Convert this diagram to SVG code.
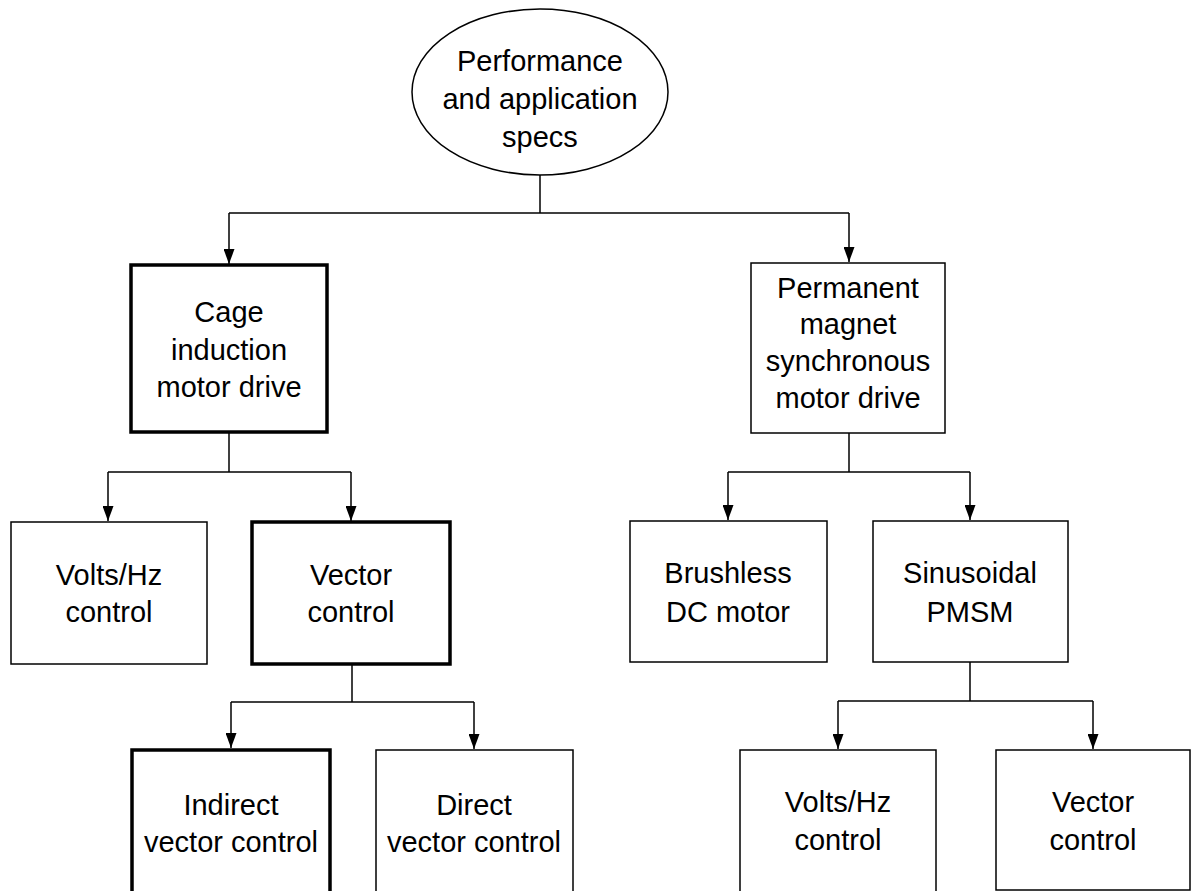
<svg xmlns="http://www.w3.org/2000/svg" width="1191" height="891" viewBox="0 0 1191 891">
<defs>
<marker id="arr" markerUnits="userSpaceOnUse" markerWidth="11" markerHeight="15" refX="5.5" refY="15" orient="0" viewBox="0 0 11 15">
<path d="M0,0 L11,0 L5.5,15 Z" fill="#000"/>
</marker>
<style>
.box{fill:#fff;stroke:#000;stroke-width:1.5}
.thick{fill:#fff;stroke:#000;stroke-width:3.5}
.lbl{font-family:"Liberation Sans",Arial,sans-serif;font-size:29px;fill:#000;text-anchor:middle}
.c{fill:none;stroke:#000;stroke-width:1.5}
</style>
</defs>
<rect width="1191" height="891" fill="#fff"/>
<g id="connectors">
<path class="c" d="M540,175 V213"/>
<path class="c" d="M229,213 H849"/>
<path class="c" d="M229,213 V264" marker-end="url(#arr)"/>
<path class="c" d="M849,213 V262" marker-end="url(#arr)"/>
<path class="c" d="M229,432 V472"/>
<path class="c" d="M108,472 H351"/>
<path class="c" d="M108,472 V521" marker-end="url(#arr)"/>
<path class="c" d="M351,472 V521" marker-end="url(#arr)"/>
<path class="c" d="M352,664 V702"/>
<path class="c" d="M231,702 H474"/>
<path class="c" d="M231,702 V748" marker-end="url(#arr)"/>
<path class="c" d="M474,702 V749" marker-end="url(#arr)"/>
<path class="c" d="M849,433 V472"/>
<path class="c" d="M728,472 H970"/>
<path class="c" d="M728,472 V520" marker-end="url(#arr)"/>
<path class="c" d="M970,472 V520" marker-end="url(#arr)"/>
<path class="c" d="M970,662 V701"/>
<path class="c" d="M838,701 H1093"/>
<path class="c" d="M838,701 V749" marker-end="url(#arr)"/>
<path class="c" d="M1093,701 V749" marker-end="url(#arr)"/>
</g>
<g id="specs">
<ellipse class="box" cx="540" cy="92" rx="128" ry="83"/>
<text class="lbl" x="540" y="71">Performance</text>
<text class="lbl" x="540" y="109">and application</text>
<text class="lbl" x="540" y="147">specs</text>
</g>
<g id="cage">
<rect class="thick" x="131" y="265" width="196" height="167"/>
<text class="lbl" x="229" y="322">Cage</text>
<text class="lbl" x="229" y="360">induction</text>
<text class="lbl" x="229" y="397">motor drive</text>
</g>
<g id="pmsm-drive">
<rect class="box" x="751" y="263" width="194" height="170"/>
<text class="lbl" x="848" y="298">Permanent</text>
<text class="lbl" x="848" y="334">magnet</text>
<text class="lbl" x="848" y="371">synchronous</text>
<text class="lbl" x="848" y="408">motor drive</text>
</g>
<g id="volts-hz-1">
<rect class="box" x="11" y="522" width="196" height="142"/>
<text class="lbl" x="109" y="585">Volts/Hz</text>
<text class="lbl" x="109" y="622">control</text>
</g>
<g id="vector-1">
<rect class="thick" x="252" y="522" width="198" height="142"/>
<text class="lbl" x="351" y="585">Vector</text>
<text class="lbl" x="351" y="622">control</text>
</g>
<g id="brushless">
<rect class="box" x="630" y="521" width="197" height="141"/>
<text class="lbl" x="728" y="583">Brushless</text>
<text class="lbl" x="728" y="622">DC motor</text>
</g>
<g id="sinusoidal">
<rect class="box" x="873" y="521" width="195" height="141"/>
<text class="lbl" x="970" y="583">Sinusoidal</text>
<text class="lbl" x="970" y="622">PMSM</text>
</g>
<g id="indirect">
<rect class="thick" x="132" y="750" width="198" height="160"/>
<text class="lbl" x="231" y="815">Indirect</text>
<text class="lbl" x="231" y="852">vector control</text>
</g>
<g id="direct">
<rect class="box" x="376" y="750" width="197" height="160"/>
<text class="lbl" x="474" y="815">Direct</text>
<text class="lbl" x="474" y="852">vector control</text>
</g>
<g id="volts-hz-2">
<rect class="box" x="740" y="750" width="196" height="160"/>
<text class="lbl" x="838" y="812">Volts/Hz</text>
<text class="lbl" x="838" y="850">control</text>
</g>
<g id="vector-2">
<rect class="box" x="996" y="750" width="194" height="140"/>
<text class="lbl" x="1093" y="812">Vector</text>
<text class="lbl" x="1093" y="850">control</text>
</g>
</svg>
